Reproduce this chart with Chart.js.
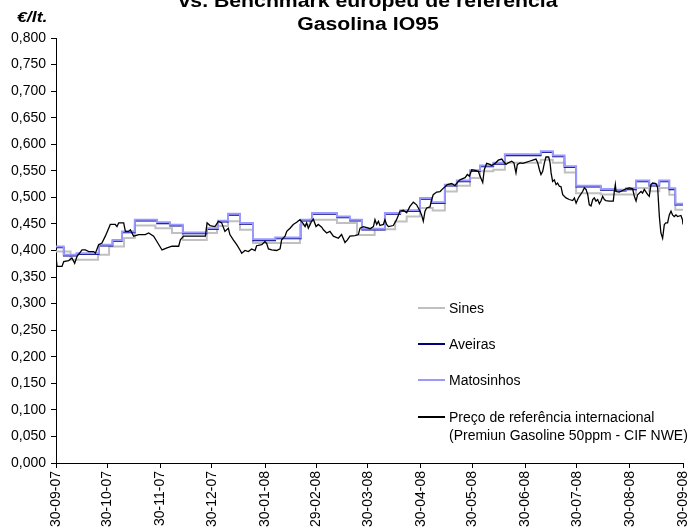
<!DOCTYPE html>
<html>
<head>
<meta charset="utf-8">
<script src="https://cdn.jsdelivr.net/npm/chart.js@4.4.1/dist/chart.umd.min.js"></script>
<style>
  body { margin: 0; background: #fff; }
  #wrap { position: relative; width: 692px; height: 530px; overflow: hidden; background: #fff;
          font-family: 'Liberation Sans', Arial, sans-serif; color: #000; }
  #c { position: absolute; left: 0; top: 0; }
  .title { position: absolute; left: 0; width: 736px; text-align: center; font-weight: bold;
           font-size: 18px; line-height: 22px; white-space: nowrap; transform: scaleX(1.18); }
  .unit { position: absolute; left: 17px; top: 9px; font-size: 15px; line-height: 15px;
          font-weight: bold; font-style: italic; transform: scaleX(1.18); transform-origin: left; }
  .lg-line { position: absolute; left: 418px; width: 27px; }
  .lg-text { position: absolute; left: 449px; font-size: 14px; line-height: 18px; white-space: nowrap; }
</style>
</head>
<body>
<div id="wrap">
  <canvas id="c" width="692" height="530"></canvas>
  <div class="title" style="top:-10px">vs. Benchmark europeu de referência</div>
  <div class="title" style="top:13px">Gasolina IO95</div>
  <div class="unit">€/lt.</div>

  <div class="lg-line" style="top:307px;height:2px;background:#C0C0C0"></div>
  <div class="lg-text" style="top:299px">Sines</div>
  <div class="lg-line" style="top:343px;height:1.5px;background:#000080"></div>
  <div class="lg-text" style="top:335px">Aveiras</div>
  <div class="lg-line" style="top:379px;height:1.5px;background:#9999FF"></div>
  <div class="lg-text" style="top:371px">Matosinhos</div>
  <div class="lg-line" style="top:416px;height:1.5px;background:#000"></div>
  <div class="lg-text" style="top:408px">Preço de referência internacional<br>(Premiun Gasoline 50ppm - CIF NWE)</div>
</div>
<script>
// x axis: days since 30-09-07
const tickDays = [0, 30, 61, 91, 122, 152, 182, 213, 243, 274, 304, 335, 366];
const tickLabels = ['30-09-07', '30-10-07', '30-11-07', '30-12-07', '30-01-08', '29-02-08',
  '30-03-08', '30-04-08', '30-05-08', '30-06-08', '30-07-08', '30-08-08', '30-09-08'];

// retail prices (step changes)
const sinesDays = [0, 8.5, 24.5, 31, 39.7, 46, 58, 67.7, 74, 88, 94, 100.4, 107.4, 115, 142.4, 148.3,
  164, 175.7, 186, 198, 204.7, 212.5, 219.9, 227, 234, 241.7, 247.5, 255.3, 262, 283, 290, 297,
  303.6, 318, 338.6, 346.3, 352.2, 358, 361.5, 366];
const sinesValues = [0.398, 0.3825, 0.392, 0.4075, 0.4235, 0.447, 0.442, 0.433, 0.420, 0.433, 0.446,
  0.455, 0.439, 0.414, 0.4485, 0.458, 0.452, 0.429, 0.440, 0.4547, 0.464, 0.480, 0.4755, 0.511,
  0.522, 0.5365, 0.549, 0.552, 0.565, 0.571, 0.565, 0.547, 0.508, 0.5055, 0.5177, 0.5114, 0.5177,
  0.505, 0.4767, 0.4767];

const retailDays = [0, 4.5, 12, 25, 33, 38.5, 46, 59, 66.5, 74, 88, 94.6, 100.4, 107.4, 115, 128, 143,
  149.5, 164, 171.6, 178.6, 192, 201, 212.5, 219.3, 227, 234, 241.7, 247.5, 255.3, 262, 283, 290,
  296.8, 303.6, 318, 326, 332.7, 338.6, 346.3, 352.2, 358, 361.5, 366];
const aveirasValues = [0.4055, 0.390, 0.393, 0.409, 0.418, 0.434, 0.456, 0.451, 0.4465, 0.432, 0.440,
  0.454, 0.467, 0.450, 0.419, 0.4225, 0.456, 0.4685, 0.462, 0.456, 0.439, 0.4686, 0.474, 0.497,
  0.489, 0.522, 0.530, 0.549, 0.558, 0.563, 0.579, 0.585, 0.577, 0.5565, 0.520, 0.514, 0.5125,
  0.515, 0.530, 0.522, 0.530, 0.515, 0.486, 0.486];
const matosinhosValues = [0.4075, 0.392, 0.395, 0.411, 0.420, 0.436, 0.458, 0.453, 0.4485, 0.434, 0.442,
  0.456, 0.469, 0.452, 0.421, 0.4245, 0.458, 0.4705, 0.464, 0.458, 0.441, 0.4706, 0.476, 0.499,
  0.491, 0.524, 0.532, 0.551, 0.560, 0.565, 0.581, 0.587, 0.579, 0.5585, 0.522, 0.516, 0.5145,
  0.517, 0.532, 0.524, 0.532, 0.517, 0.488, 0.488];

// international reference price
const refDays = [0, 0.6, 3.5, 4.5, 7.4, 9.3, 10.9, 12.3, 15.2, 17.1, 19.1, 22, 23, 24.9, 26.8, 28.8,
  31.7, 34.6, 35.6, 36.6, 39.5, 40.5, 42.4, 43.4, 45.3, 48.3, 52.1, 54.1, 57, 58.9, 61.9, 64.8, 67.7,
  71.6, 72.6, 74.5, 79.4, 83.3, 87.2, 88.2, 89.9, 92.8, 94.8, 96.7, 98.6, 100.6, 101.5, 103.5, 105.5,
  107.4, 108.4, 110.3, 112.3, 114.2, 116.2, 117.1, 120.1, 122, 123, 124, 125.9, 128.8, 130.8, 131.7,
  133.7, 134.7, 136.6, 138.5, 140.5, 142.4, 144, 145.4, 146.3, 147.3, 149.2, 150.2, 151.8, 153.1,
  155.1, 156.1, 158, 159.9, 161.9, 164.8, 166.7, 168.7, 170.1, 171.6, 174.5, 176.5, 177.5, 179.4,
  181.5, 183.3, 185.3, 186.2, 187.2, 188.2, 189.1, 191.1, 192, 193, 194, 196.9, 198.8, 200.8, 202.7,
  204.7, 206.6, 208.6, 210.5, 211.5, 212.5, 213.4, 214.4, 215.4, 216.4, 218.3, 219.3, 220.2, 222.2,
  224.2, 225.7, 227.1, 228.4, 231, 232.9, 234.3, 235.8, 238.8, 240.1, 241.3, 242.7, 244.6, 246.5,
  247.5, 249.1, 250, 251.4, 253.3, 254.3, 256.3, 258.2, 260.2, 261.1, 262.7, 264, 266, 267.3, 268.5,
  269.3, 270.9, 272.5, 274.4, 276.3, 278.3, 280.2, 281.2, 282.2, 283.1, 284.1, 285.1, 286, 287.6,
  288.4, 289, 289.9, 290.9, 291.9, 292.8, 293.8, 294.8, 295.8, 297.7, 299.6, 301.6, 302.6, 303.6,
  304.5, 305.5, 307.4, 308.4, 309.4, 310.4, 311.3, 312.3, 313.3, 314.2, 315.2, 316.2, 317.2, 318.1,
  319.1, 320.1, 321, 323, 325.3, 325.9, 326.5, 326.9, 328.8, 330.8, 332.7, 334.7, 336.6, 337.6,
  338.6, 339.5, 341.5, 342.4, 343.4, 345.4, 346.3, 347.3, 348.3, 350.2, 351.2, 352.2, 353.1, 354.1,
  355.1, 356, 357, 358, 359, 359.9, 360.9, 361.9, 362.8, 364.8, 365.7, 366];
const refValues = [0.389, 0.370, 0.370, 0.379, 0.381, 0.386, 0.376, 0.389, 0.401, 0.401, 0.398, 0.398,
  0.395, 0.411, 0.414, 0.427, 0.449, 0.449, 0.445, 0.452, 0.452, 0.436, 0.436, 0.439, 0.427, 0.430,
  0.430, 0.433, 0.427, 0.417, 0.401, 0.405, 0.408, 0.408, 0.420, 0.427, 0.427, 0.427, 0.427, 0.452,
  0.447, 0.445, 0.455, 0.452, 0.436, 0.442, 0.430, 0.420, 0.411, 0.401, 0.395, 0.400, 0.398, 0.403,
  0.400, 0.409, 0.411, 0.417, 0.413, 0.403, 0.401, 0.400, 0.403, 0.420, 0.427, 0.436, 0.442, 0.449,
  0.453, 0.458, 0.452, 0.445, 0.452, 0.442, 0.455, 0.459, 0.445, 0.449, 0.444, 0.439, 0.433, 0.436,
  0.427, 0.423, 0.430, 0.415, 0.420, 0.427, 0.428, 0.430, 0.442, 0.445, 0.443, 0.441, 0.445, 0.458,
  0.449, 0.455, 0.447, 0.449, 0.458, 0.449, 0.445, 0.447, 0.458, 0.474, 0.476, 0.471, 0.483, 0.491,
  0.486, 0.480, 0.474, 0.467, 0.455, 0.474, 0.480, 0.482, 0.496, 0.505, 0.510, 0.511, 0.516, 0.520,
  0.524, 0.526, 0.522, 0.528, 0.533, 0.537, 0.543, 0.540, 0.552, 0.551, 0.549, 0.540, 0.528, 0.552,
  0.564, 0.562, 0.560, 0.564, 0.570, 0.572, 0.568, 0.562, 0.565, 0.568, 0.565, 0.546, 0.562, 0.565,
  0.564, 0.566, 0.568, 0.570, 0.572, 0.565, 0.552, 0.543, 0.549, 0.565, 0.576, 0.576, 0.565, 0.546,
  0.530, 0.533, 0.524, 0.527, 0.521, 0.520, 0.505, 0.499, 0.496, 0.494, 0.499, 0.489, 0.496, 0.502,
  0.511, 0.518, 0.515, 0.505, 0.486, 0.484, 0.496, 0.499, 0.493, 0.496, 0.488, 0.493, 0.502, 0.496,
  0.494, 0.493, 0.493, 0.511, 0.524, 0.511, 0.510, 0.513, 0.516, 0.518, 0.516, 0.502, 0.493, 0.505,
  0.511, 0.508, 0.515, 0.505, 0.502, 0.524, 0.527, 0.526, 0.518, 0.464, 0.433, 0.423, 0.449, 0.452,
  0.452, 0.467, 0.474, 0.467, 0.464, 0.467, 0.464, 0.466, 0.458, 0.449];

const toPoints = (xs, ys) => xs.map((x, i) => ({ x: x, y: ys[i] }));

Chart.defaults.font.family = "'Liberation Sans', Arial, sans-serif";
Chart.defaults.font.size = 14;
Chart.defaults.color = '#000';

new Chart(document.getElementById('c').getContext('2d'), {
  type: 'line',
  data: {
    datasets: [
      { label: 'Sines', data: toPoints(sinesDays, sinesValues), borderColor: '#C0C0C0',
        borderWidth: 2, stepped: true, order: 3 },
      { label: 'Aveiras', data: toPoints(retailDays, aveirasValues), borderColor: '#000080',
        borderWidth: 1.5, stepped: true, order: 2 },
      { label: 'Matosinhos', data: toPoints(retailDays, matosinhosValues), borderColor: '#9999FF',
        borderWidth: 2, stepped: true, order: 1 },
      { label: 'Preço de referência internacional', data: toPoints(refDays, refValues),
        borderColor: '#000000', borderWidth: 1.3, order: 0 }
    ]
  },
  options: {
    responsive: false,
    animation: false,
    devicePixelRatio: 1,
    elements: { point: { radius: 0 }, line: { tension: 0 } },
    layout: { padding: { top: 38, right: 9, left: 0, bottom: 0 } },
    plugins: { legend: { display: false }, title: { display: false }, tooltip: { enabled: false } },
    scales: {
      x: {
        type: 'linear', min: 0, max: 366,
        afterBuildTicks: axis => { axis.ticks = tickDays.map(v => ({ value: v })); },
        afterFit: axis => { axis.height = 67; axis.paddingRight = 0; axis.paddingLeft = 0; },
        grid: { drawOnChartArea: false, drawTicks: true, tickLength: 5, color: '#000' },
        border: { display: true, color: '#000', width: 1 },
        ticks: {
          autoSkip: false, minRotation: 90, maxRotation: 90, padding: 3,
          font: { size: 14 },
          callback: (v, i) => tickLabels[i]
        }
      },
      y: {
        min: 0, max: 0.8,
        afterFit: axis => { axis.width = 56; },
        grid: { drawOnChartArea: false, drawTicks: true, tickLength: 5, color: '#000' },
        border: { display: true, color: '#000', width: 1 },
        ticks: {
          stepSize: 0.05, padding: 5,
          callback: v => v.toFixed(3).replace('.', ',')
        }
      }
    }
  }
});
</script>
</body>
</html>
